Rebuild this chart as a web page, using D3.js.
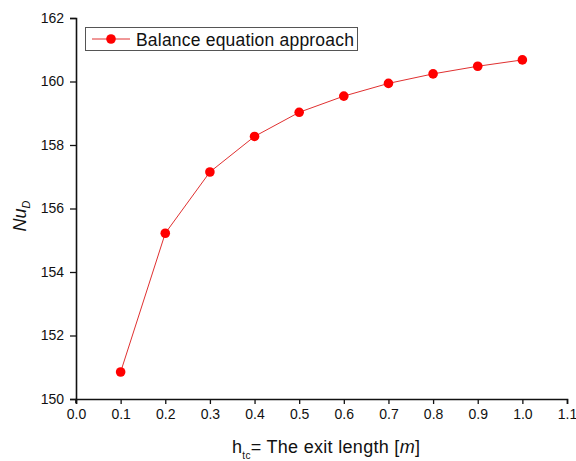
<!DOCTYPE html>
<html lang="en">
<head>
<meta charset="UTF-8">
<title>Nu_D vs exit length</title>
<script src="https://d3js.org/d3.v7.min.js"></script>
<style>
  body { margin: 0; background: #fff; }
  svg text { font-family: Arial, "Liberation Sans", sans-serif; fill: #111; }
</style>
</head>
<body>
<script>
// data
const exitLength = [0.1, 0.2, 0.3, 0.4, 0.5, 0.6, 0.7, 0.8, 0.9, 1.0];
const nuD = [150.85, 155.22, 157.15, 158.27, 159.03, 159.54, 159.94, 160.24, 160.48, 160.68];
const xTicks = [0, 0.1, 0.2, 0.3, 0.4, 0.5, 0.6, 0.7, 0.8, 0.9, 1.0, 1.1];
const yTicks = [150, 152, 154, 156, 158, 160, 162];
const seriesName = "Balance equation approach";

const W = 576, H = 461;
const mLeft = 76, mRight = 567, mTop = 18, mBottom = 399;

const svg = d3.select("body").append("svg")
  .attr("width", W).attr("height", H);

const x = d3.scaleLinear().domain([0, 1.1]).range([mLeft, mRight]);
const y = d3.scaleLinear().domain([150, 162]).range([mBottom, mTop]);

// axes
const xAxis = svg.append("g")
  .attr("transform", `translate(0,${mBottom})`)
  .call(d3.axisBottom(x).tickValues(xTicks).tickFormat(d3.format(".1f")).tickSizeOuter(0).tickSize(5).tickPadding(5));
const yAxis = svg.append("g")
  .attr("transform", `translate(${mLeft},0)`)
  .call(d3.axisLeft(y).tickValues(yTicks).tickFormat(d3.format("d")).tickSizeOuter(0).tickSize(6).tickPadding(6));

[xAxis, yAxis].forEach(g => {
  g.select(".domain").attr("stroke", "#111").attr("stroke-width", 1.6);
  g.selectAll(".tick line").attr("stroke", "#111").attr("stroke-width", 1.3);
  g.selectAll(".tick text").attr("font-size", 14).attr("fill", "#111")
    .attr("font-family", "Arial, 'Liberation Sans', sans-serif");
});
// y axis runs down past the x axis a little, like the reference
svg.append("line")
  .attr("x1", mLeft).attr("x2", mLeft).attr("y1", mBottom).attr("y2", mBottom + 4)
  .attr("stroke", "#111").attr("stroke-width", 1.6);

// series
const pts = exitLength.map((d, i) => [d, nuD[i]]);
svg.append("path")
  .datum(pts)
  .attr("fill", "none")
  .attr("stroke", "#e03030")
  .attr("stroke-width", 1)
  .attr("d", d3.line().x(d => x(d[0])).y(d => y(d[1])));

svg.selectAll("circle.pt")
  .data(pts)
  .enter().append("circle")
  .attr("class", "pt")
  .attr("cx", d => x(d[0]))
  .attr("cy", d => y(d[1]))
  .attr("r", 4.8)
  .attr("fill", "#ff0000");

// legend
const lg = svg.append("g");
lg.append("rect")
  .attr("x", 85.5).attr("y", 27.5).attr("width", 272).attr("height", 23)
  .attr("fill", "#fff").attr("stroke", "#555").attr("stroke-width", 1);
lg.append("line")
  .attr("x1", 92).attr("x2", 130).attr("y1", 39).attr("y2", 39)
  .attr("stroke", "#e03030").attr("stroke-width", 1);
lg.append("circle").attr("cx", 111).attr("cy", 39).attr("r", 4.8).attr("fill", "#ff0000");
lg.append("text")
  .attr("x", 136).attr("y", 45.5)
  .attr("font-size", 17.5)
  .attr("letter-spacing", 0.2)
  .text(seriesName);

// y label
const yl = svg.append("text")
  .attr("transform", "translate(26,216) rotate(-90)")
  .attr("text-anchor", "middle")
  .attr("font-size", 18);
yl.append("tspan").attr("font-style", "italic").text("Nu");
yl.append("tspan").attr("font-style", "italic").attr("font-size", 11).attr("dy", 4).text("D");

// x label
const xl = svg.append("text")
  .attr("x", 232).attr("y", 453)
  .attr("font-size", 18)
  .attr("letter-spacing", 0.3);
xl.append("tspan").text("h");
xl.append("tspan").attr("font-size", 10).attr("dy", 6).text("tc");
xl.append("tspan").attr("dy", -6).text("= The exit length [");
xl.append("tspan").attr("font-style", "italic").text("m");
xl.append("tspan").text("]");
</script>
</body>
</html>
